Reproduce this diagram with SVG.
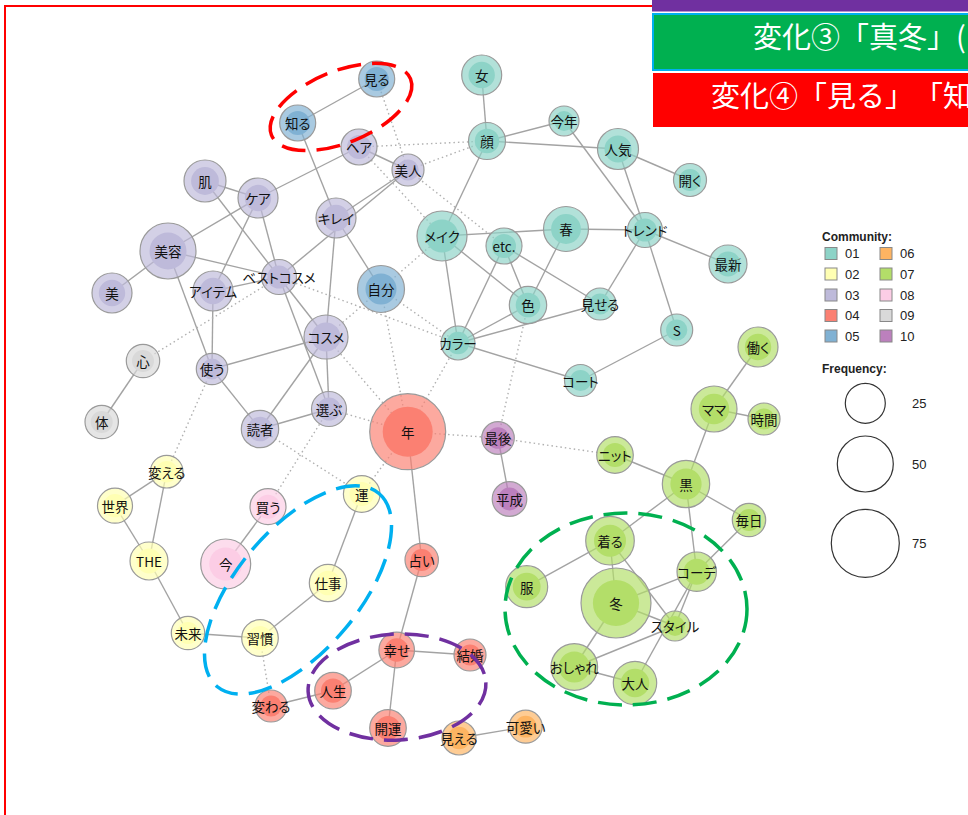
<svg xmlns="http://www.w3.org/2000/svg" width="968" height="815" viewBox="0 0 968 815">
<style>
.lbl{font-family:"Noto Sans CJK JP","Noto Sans",sans-serif;font-size:13.5px;fill:#111;text-anchor:middle;dominant-baseline:central;font-feature-settings:"palt"}
.o{stroke:#9a9a9a;stroke-width:1.2;fill-opacity:0.68}
.i{stroke:none}
.c01{fill:#8DD3C7}.c02{fill:#FFFFB3}.c03{fill:#BEBADA}.c04{fill:#FB8072}.c05{fill:#80B1D3}
.c06{fill:#FDB462}.c07{fill:#B3DE69}.c08{fill:#FCCDE5}.c09{fill:#D9D9D9}.c10{fill:#BC80BD}
.e{stroke:#a3a3a3;stroke-width:1.4;fill:none}
.d{stroke:#b0b0b0;stroke-width:1.4;stroke-dasharray:1.5 3;fill:none}
.ring{fill:none;stroke-width:3.5;stroke-dasharray:24 11}
.lg{font-family:"Liberation Sans",Arial,sans-serif;font-size:13px;fill:#222}
.lgb{font-family:"Liberation Sans",Arial,sans-serif;font-size:12px;font-weight:bold;fill:#222}
.sw{stroke:#888;stroke-width:1}
.ban{font-family:"Noto Sans CJK JP","Noto Sans",sans-serif;font-size:29px;fill:#fff;text-spacing-trim:space-all;font-feature-settings:"halt" 0,"chws" 0}
</style>
<rect x="0" y="0" width="968" height="815" fill="#fff"/>
<rect x="5" y="6" width="1000" height="900" fill="none" stroke="#FF0000" stroke-width="2"/>
<g id="connectors">
<line class="e" x1="376.7" y1="79" x2="297.7" y2="123"/>
<line class="e" x1="297.7" y1="123" x2="336" y2="218"/>
<line class="e" x1="359" y1="147" x2="408" y2="170"/>
<line class="e" x1="359" y1="147" x2="258" y2="198"/>
<line class="e" x1="205" y1="181" x2="258" y2="198"/>
<line class="e" x1="205" y1="181" x2="279" y2="277"/>
<line class="e" x1="258" y1="198" x2="168" y2="251"/>
<line class="e" x1="258" y1="198" x2="213" y2="291"/>
<line class="e" x1="258" y1="198" x2="279" y2="277"/>
<line class="e" x1="408" y1="170" x2="336" y2="218"/>
<line class="e" x1="408" y1="170" x2="279" y2="277"/>
<line class="e" x1="336" y1="218" x2="381" y2="289"/>
<line class="e" x1="336" y1="218" x2="326" y2="337"/>
<line class="e" x1="168" y1="251" x2="112" y2="293"/>
<line class="e" x1="168" y1="251" x2="279" y2="277"/>
<line class="e" x1="168" y1="251" x2="212" y2="369"/>
<line class="e" x1="213" y1="291" x2="279" y2="277"/>
<line class="e" x1="213" y1="291" x2="212" y2="369"/>
<line class="e" x1="279" y1="277" x2="326" y2="337"/>
<line class="e" x1="279" y1="277" x2="329" y2="409"/>
<line class="e" x1="326" y1="337" x2="212" y2="369"/>
<line class="e" x1="326" y1="337" x2="260" y2="429"/>
<line class="e" x1="326" y1="337" x2="329" y2="409"/>
<line class="e" x1="212" y1="369" x2="260" y2="429"/>
<line class="e" x1="260" y1="429" x2="329" y2="409"/>
<line class="e" x1="143" y1="361" x2="101.7" y2="422"/>
<line class="e" x1="481.7" y1="75" x2="487" y2="141"/>
<line class="e" x1="487" y1="141" x2="564" y2="121"/>
<line class="e" x1="487" y1="141" x2="618" y2="149"/>
<line class="e" x1="487" y1="141" x2="442" y2="236"/>
<line class="e" x1="564" y1="121" x2="645" y2="230"/>
<line class="e" x1="618" y1="149" x2="645" y2="230"/>
<line class="e" x1="618" y1="149" x2="690" y2="180"/>
<line class="e" x1="442" y1="236" x2="566" y2="229"/>
<line class="e" x1="566" y1="229" x2="645" y2="230"/>
<line class="e" x1="442" y1="236" x2="528" y2="305"/>
<line class="e" x1="442" y1="236" x2="458" y2="343"/>
<line class="e" x1="504" y1="246" x2="528" y2="305"/>
<line class="e" x1="504" y1="246" x2="458" y2="343"/>
<line class="e" x1="504" y1="246" x2="600" y2="304"/>
<line class="e" x1="566" y1="229" x2="528" y2="305"/>
<line class="e" x1="645" y1="230" x2="728" y2="264"/>
<line class="e" x1="645" y1="230" x2="600" y2="304"/>
<line class="e" x1="645" y1="230" x2="676.7" y2="330"/>
<line class="e" x1="528" y1="305" x2="458" y2="343"/>
<line class="e" x1="458" y1="343" x2="600" y2="304"/>
<line class="e" x1="458" y1="343" x2="580.5" y2="380.5"/>
<line class="e" x1="676.7" y1="330" x2="580.5" y2="380.5"/>
<line class="e" x1="758" y1="347" x2="714" y2="409"/>
<line class="e" x1="714" y1="409" x2="764" y2="419"/>
<line class="e" x1="714" y1="409" x2="686" y2="484"/>
<line class="e" x1="615" y1="455" x2="686" y2="484"/>
<line class="e" x1="686" y1="484" x2="749" y2="520"/>
<line class="e" x1="686" y1="484" x2="610" y2="540.7"/>
<line class="e" x1="686" y1="484" x2="696.7" y2="571.7"/>
<line class="e" x1="749" y1="520" x2="696.7" y2="571.7"/>
<line class="e" x1="610" y1="540.7" x2="526.7" y2="586.7"/>
<line class="e" x1="610" y1="540.7" x2="616" y2="603"/>
<line class="e" x1="610" y1="540.7" x2="675" y2="626"/>
<line class="e" x1="616" y1="603" x2="696.7" y2="571.7"/>
<line class="e" x1="616" y1="603" x2="675" y2="626"/>
<line class="e" x1="616" y1="603" x2="574.3" y2="667"/>
<line class="e" x1="574.3" y1="667" x2="675" y2="626"/>
<line class="e" x1="574.3" y1="667" x2="635" y2="683"/>
<line class="e" x1="696.7" y1="571.7" x2="675" y2="626"/>
<line class="e" x1="696.7" y1="571.7" x2="635" y2="683"/>
<line class="e" x1="407.7" y1="431.7" x2="421.7" y2="560"/>
<line class="e" x1="421.7" y1="560" x2="396.7" y2="650"/>
<line class="e" x1="396.7" y1="650" x2="470" y2="655"/>
<line class="e" x1="396.7" y1="650" x2="333" y2="690.7"/>
<line class="e" x1="396.7" y1="650" x2="388" y2="728"/>
<line class="e" x1="333" y1="690.7" x2="271" y2="706"/>
<line class="e" x1="459" y1="738" x2="525.7" y2="726.7"/>
<line class="e" x1="498" y1="438" x2="509.5" y2="499"/>
<line class="e" x1="166.7" y1="471.7" x2="115" y2="505.7"/>
<line class="e" x1="166.7" y1="471.7" x2="149" y2="561"/>
<line class="e" x1="115" y1="505.7" x2="149" y2="561"/>
<line class="e" x1="149" y1="561" x2="188" y2="633"/>
<line class="e" x1="188" y1="633" x2="260" y2="638"/>
<line class="e" x1="260" y1="638" x2="328" y2="583"/>
<line class="e" x1="328" y1="583" x2="361.7" y2="494"/>
<line class="e" x1="268" y1="506.7" x2="225.7" y2="564"/>
<line class="d" x1="376.7" y1="79" x2="408" y2="170"/>
<line class="d" x1="359" y1="147" x2="487" y2="141"/>
<line class="d" x1="408" y1="170" x2="487" y2="141"/>
<line class="d" x1="408" y1="170" x2="504" y2="246"/>
<line class="d" x1="359" y1="147" x2="442" y2="236"/>
<line class="d" x1="381" y1="289" x2="442" y2="236"/>
<line class="d" x1="381" y1="289" x2="458" y2="343"/>
<line class="d" x1="381" y1="289" x2="407.7" y2="431.7"/>
<line class="d" x1="381" y1="289" x2="326" y2="337"/>
<line class="d" x1="279" y1="277" x2="458" y2="343"/>
<line class="d" x1="326" y1="337" x2="407.7" y2="431.7"/>
<line class="d" x1="329" y1="409" x2="407.7" y2="431.7"/>
<line class="d" x1="458" y1="343" x2="407.7" y2="431.7"/>
<line class="d" x1="528" y1="305" x2="498" y2="438"/>
<line class="d" x1="407.7" y1="431.7" x2="498" y2="438"/>
<line class="d" x1="498" y1="438" x2="615" y2="455"/>
<line class="d" x1="407.7" y1="431.7" x2="361.7" y2="494"/>
<line class="d" x1="260" y1="429" x2="361.7" y2="494"/>
<line class="d" x1="329" y1="409" x2="268" y2="506.7"/>
<line class="d" x1="212" y1="369" x2="166.7" y2="471.7"/>
<line class="d" x1="143" y1="361" x2="279" y2="277"/>
<line class="d" x1="260" y1="638" x2="271" y2="706"/>
</g>
<g id="n-miru" class="c05"><circle class="o" cx="376.7" cy="79" r="18"/><circle class="i" cx="376.7" cy="79" r="12"/><text class="lbl" x="376.7" y="79">見る</text></g>
<g id="n-shiru" class="c05"><circle class="o" cx="297.7" cy="123" r="18"/><circle class="i" cx="297.7" cy="123" r="12"/><text class="lbl" x="297.7" y="123">知る</text></g>
<g id="n-jibun" class="c05"><circle class="o" cx="381" cy="289" r="23.5"/><circle class="i" cx="381" cy="289" r="15.5"/><text class="lbl" x="381" y="289">自分</text></g>
<g id="n-hair" class="c03"><circle class="o" cx="359" cy="147" r="18"/><circle class="i" cx="359" cy="147" r="12"/><text class="lbl" x="359" y="147">ヘア</text></g>
<g id="n-bijin" class="c03"><circle class="o" cx="408" cy="170" r="16"/><circle class="i" cx="408" cy="170" r="10.6"/><text class="lbl" x="408" y="170">美人</text></g>
<g id="n-hada" class="c03"><circle class="o" cx="205" cy="181" r="21"/><circle class="i" cx="205" cy="181" r="13.9"/><text class="lbl" x="205" y="181">肌</text></g>
<g id="n-care" class="c03"><circle class="o" cx="258" cy="198" r="20"/><circle class="i" cx="258" cy="198" r="13.2"/><text class="lbl" x="258" y="198">ケア</text></g>
<g id="n-kirei" class="c03"><circle class="o" cx="336" cy="218" r="20"/><circle class="i" cx="336" cy="218" r="13.2"/><text class="lbl" x="336" y="218">キレイ</text></g>
<g id="n-biyou" class="c03"><circle class="o" cx="168" cy="251" r="28"/><circle class="i" cx="168" cy="251" r="18.5"/><text class="lbl" x="168" y="251">美容</text></g>
<g id="n-bi" class="c03"><circle class="o" cx="112" cy="293" r="20"/><circle class="i" cx="112" cy="293" r="13.2"/><text class="lbl" x="112" y="293">美</text></g>
<g id="n-item" class="c03"><circle class="o" cx="213" cy="291" r="20"/><circle class="i" cx="213" cy="291" r="13.2"/><text class="lbl" x="213" y="291">アイテム</text></g>
<g id="n-bestcosme" class="c03"><circle class="o" cx="279" cy="277" r="17.5"/><circle class="i" cx="279" cy="277" r="11.6"/><text class="lbl" x="279" y="277">ベストコスメ</text></g>
<g id="n-cosme" class="c03"><circle class="o" cx="326" cy="337" r="22"/><circle class="i" cx="326" cy="337" r="14.5"/><text class="lbl" x="326" y="337">コスメ</text></g>
<g id="n-tsukau" class="c03"><circle class="o" cx="212" cy="369" r="15.7"/><circle class="i" cx="212" cy="369" r="10.4"/><text class="lbl" x="212" y="369">使う</text></g>
<g id="n-dokusha" class="c03"><circle class="o" cx="260" cy="429" r="18.7"/><circle class="i" cx="260" cy="429" r="12.3"/><text class="lbl" x="260" y="429">読者</text></g>
<g id="n-erabu" class="c03"><circle class="o" cx="329" cy="409" r="17.5"/><circle class="i" cx="329" cy="409" r="11.6"/><text class="lbl" x="329" y="409">選ぶ</text></g>
<g id="n-kokoro" class="c09"><circle class="o" cx="143" cy="361" r="16.7"/><circle class="i" cx="143" cy="361" r="11"/><text class="lbl" x="143" y="361">心</text></g>
<g id="n-karada" class="c09"><circle class="o" cx="101.7" cy="422" r="16.7"/><circle class="i" cx="101.7" cy="422" r="11"/><text class="lbl" x="101.7" y="422">体</text></g>
<g id="n-onna" class="c01"><circle class="o" cx="481.7" cy="75" r="20"/><circle class="i" cx="481.7" cy="75" r="13.2"/><text class="lbl" x="481.7" y="75">女</text></g>
<g id="n-kao" class="c01"><circle class="o" cx="487" cy="141" r="18.5"/><circle class="i" cx="487" cy="141" r="12.2"/><text class="lbl" x="487" y="141">顔</text></g>
<g id="n-kotoshi" class="c01"><circle class="o" cx="564" cy="121" r="15"/><circle class="i" cx="564" cy="121" r="9.9"/><text class="lbl" x="564" y="121">今年</text></g>
<g id="n-ninki" class="c01"><circle class="o" cx="618" cy="149" r="20.5"/><circle class="i" cx="618" cy="149" r="13.5"/><text class="lbl" x="618" y="149">人気</text></g>
<g id="n-hiraku" class="c01"><circle class="o" cx="690" cy="180" r="16.5"/><circle class="i" cx="690" cy="180" r="10.9"/><text class="lbl" x="690" y="180">開く</text></g>
<g id="n-make" class="c01"><circle class="o" cx="442" cy="236" r="25"/><circle class="i" cx="442" cy="236" r="16.5"/><text class="lbl" x="442" y="236">メイク</text></g>
<g id="n-etc" class="c01"><circle class="o" cx="504" cy="246" r="18"/><circle class="i" cx="504" cy="246" r="12"/><text class="lbl" x="504" y="246">etc.</text></g>
<g id="n-haru" class="c01"><circle class="o" cx="566" cy="229" r="22.5"/><circle class="i" cx="566" cy="229" r="14.9"/><text class="lbl" x="566" y="229">春</text></g>
<g id="n-trend" class="c01"><circle class="o" cx="645" cy="230" r="17.5"/><circle class="i" cx="645" cy="230" r="11.6"/><text class="lbl" x="645" y="230">トレンド</text></g>
<g id="n-saishin" class="c01"><circle class="o" cx="728" cy="264" r="19"/><circle class="i" cx="728" cy="264" r="12.5"/><text class="lbl" x="728" y="264">最新</text></g>
<g id="n-iro" class="c01"><circle class="o" cx="528" cy="305" r="18.7"/><circle class="i" cx="528" cy="305" r="12.3"/><text class="lbl" x="528" y="305">色</text></g>
<g id="n-miseru" class="c01"><circle class="o" cx="600" cy="304" r="16"/><circle class="i" cx="600" cy="304" r="10.6"/><text class="lbl" x="600" y="304">見せる</text></g>
<g id="n-color" class="c01"><circle class="o" cx="458" cy="343" r="17"/><circle class="i" cx="458" cy="343" r="11.2"/><text class="lbl" x="458" y="343">カラー</text></g>
<g id="n-s" class="c01"><circle class="o" cx="676.7" cy="330" r="16"/><circle class="i" cx="676.7" cy="330" r="10.6"/><text class="lbl" x="676.7" y="330">S</text></g>
<g id="n-coat" class="c01"><circle class="o" cx="580.5" cy="380.5" r="16"/><circle class="i" cx="580.5" cy="380.5" r="10.6"/><text class="lbl" x="580.5" y="380.5">コート</text></g>
<g id="n-toshi" class="c04"><circle class="o" cx="407.7" cy="431.7" r="38"/><circle class="i" cx="407.7" cy="431.7" r="25"/><text class="lbl" x="407.7" y="431.7">年</text></g>
<g id="n-saigo" class="c10"><circle class="o" cx="498" cy="438" r="16.3"/><circle class="i" cx="498" cy="438" r="10.8"/><text class="lbl" x="498" y="438">最後</text></g>
<g id="n-heisei" class="c10"><circle class="o" cx="509.5" cy="499" r="17.3"/><circle class="i" cx="509.5" cy="499" r="11.4"/><text class="lbl" x="509.5" y="499">平成</text></g>
<g id="n-uranai" class="c04"><circle class="o" cx="421.7" cy="560" r="16.7"/><circle class="i" cx="421.7" cy="560" r="11"/><text class="lbl" x="421.7" y="560">占い</text></g>
<g id="n-shiawase" class="c04"><circle class="o" cx="396.7" cy="650" r="17.8"/><circle class="i" cx="396.7" cy="650" r="11.7"/><text class="lbl" x="396.7" y="650">幸せ</text></g>
<g id="n-kekkon" class="c04"><circle class="o" cx="470" cy="655" r="16"/><circle class="i" cx="470" cy="655" r="10.6"/><text class="lbl" x="470" y="655">結婚</text></g>
<g id="n-jinsei" class="c04"><circle class="o" cx="333" cy="690.7" r="18.3"/><circle class="i" cx="333" cy="690.7" r="12.1"/><text class="lbl" x="333" y="690.7">人生</text></g>
<g id="n-kaiun" class="c04"><circle class="o" cx="388" cy="728" r="18.3"/><circle class="i" cx="388" cy="728" r="12.1"/><text class="lbl" x="388" y="728">開運</text></g>
<g id="n-kawaru" class="c04"><circle class="o" cx="271" cy="706" r="16"/><circle class="i" cx="271" cy="706" r="10.6"/><text class="lbl" x="271" y="706">変わる</text></g>
<g id="n-mieru" class="c06"><circle class="o" cx="459" cy="738" r="17"/><circle class="i" cx="459" cy="738" r="11.2"/><text class="lbl" x="459" y="738">見える</text></g>
<g id="n-kawaii" class="c06"><circle class="o" cx="525.7" cy="726.7" r="16.5"/><circle class="i" cx="525.7" cy="726.7" r="10.9"/><text class="lbl" x="525.7" y="726.7">可愛い</text></g>
<g id="n-kaeru" class="c02"><circle class="o" cx="166.7" cy="471.7" r="16.3"/><circle class="i" cx="166.7" cy="471.7" r="10.8"/><text class="lbl" x="166.7" y="471.7">変える</text></g>
<g id="n-sekai" class="c02"><circle class="o" cx="115" cy="505.7" r="17.5"/><circle class="i" cx="115" cy="505.7" r="11.6"/><text class="lbl" x="115" y="505.7">世界</text></g>
<g id="n-the" class="c02"><circle class="o" cx="149" cy="561" r="19"/><circle class="i" cx="149" cy="561" r="12.5"/><text class="lbl" x="149" y="561">THE</text></g>
<g id="n-kau" class="c08"><circle class="o" cx="268" cy="506.7" r="18"/><circle class="i" cx="268" cy="506.7" r="12"/><text class="lbl" x="268" y="506.7">買う</text></g>
<g id="n-ima" class="c08"><circle class="o" cx="225.7" cy="564" r="25"/><circle class="i" cx="225.7" cy="564" r="16.5"/><text class="lbl" x="225.7" y="564">今</text></g>
<g id="n-un" class="c02"><circle class="o" cx="361.7" cy="494" r="18.3"/><circle class="i" cx="361.7" cy="494" r="12.1"/><text class="lbl" x="361.7" y="494">運</text></g>
<g id="n-shigoto" class="c02"><circle class="o" cx="328" cy="583" r="18.7"/><circle class="i" cx="328" cy="583" r="12.3"/><text class="lbl" x="328" y="583">仕事</text></g>
<g id="n-mirai" class="c02"><circle class="o" cx="188" cy="633" r="16.7"/><circle class="i" cx="188" cy="633" r="11"/><text class="lbl" x="188" y="633">未来</text></g>
<g id="n-shukan" class="c02"><circle class="o" cx="260" cy="638" r="18.3"/><circle class="i" cx="260" cy="638" r="12.1"/><text class="lbl" x="260" y="638">習慣</text></g>
<g id="n-hataraku" class="c07"><circle class="o" cx="758" cy="347" r="20"/><circle class="i" cx="758" cy="347" r="13.2"/><text class="lbl" x="758" y="347">働く</text></g>
<g id="n-mama" class="c07"><circle class="o" cx="714" cy="409" r="23"/><circle class="i" cx="714" cy="409" r="15.2"/><text class="lbl" x="714" y="409">ママ</text></g>
<g id="n-jikan" class="c07"><circle class="o" cx="764" cy="419" r="16"/><circle class="i" cx="764" cy="419" r="10.6"/><text class="lbl" x="764" y="419">時間</text></g>
<g id="n-knit" class="c07"><circle class="o" cx="615" cy="455" r="18.3"/><circle class="i" cx="615" cy="455" r="12.1"/><text class="lbl" x="615" y="455">ニット</text></g>
<g id="n-kuro" class="c07"><circle class="o" cx="686" cy="484" r="23.7"/><circle class="i" cx="686" cy="484" r="15.6"/><text class="lbl" x="686" y="484">黒</text></g>
<g id="n-mainichi" class="c07"><circle class="o" cx="749" cy="520" r="16.7"/><circle class="i" cx="749" cy="520" r="11"/><text class="lbl" x="749" y="520">毎日</text></g>
<g id="n-kiru" class="c07"><circle class="o" cx="610" cy="540.7" r="24.3"/><circle class="i" cx="610" cy="540.7" r="16"/><text class="lbl" x="610" y="540.7">着る</text></g>
<g id="n-code" class="c07"><circle class="o" cx="696.7" cy="571.7" r="19.7"/><circle class="i" cx="696.7" cy="571.7" r="13"/><text class="lbl" x="696.7" y="571.7">コーデ</text></g>
<g id="n-fuku" class="c07"><circle class="o" cx="526.7" cy="586.7" r="21"/><circle class="i" cx="526.7" cy="586.7" r="13.9"/><text class="lbl" x="526.7" y="586.7">服</text></g>
<g id="n-fuyu" class="c07"><circle class="o" cx="616" cy="603" r="35"/><circle class="i" cx="616" cy="603" r="23.1"/><text class="lbl" x="616" y="603">冬</text></g>
<g id="n-style" class="c07"><circle class="o" cx="675" cy="626" r="15"/><circle class="i" cx="675" cy="626" r="9.9"/><text class="lbl" x="675" y="626">スタイル</text></g>
<g id="n-oshare" class="c07"><circle class="o" cx="574.3" cy="667" r="23.3"/><circle class="i" cx="574.3" cy="667" r="15.4"/><text class="lbl" x="574.3" y="667">おしゃれ</text></g>
<g id="n-otona" class="c07"><circle class="o" cx="635" cy="683" r="21.7"/><circle class="i" cx="635" cy="683" r="14.3"/><text class="lbl" x="635" y="683">大人</text></g>
<g id="highlights">
<ellipse class="ring" cx="341" cy="107" rx="75" ry="36" transform="rotate(-22 341 107)" stroke="#FF0000"/>
<ellipse class="ring" cx="298" cy="590" rx="126" ry="61" transform="rotate(-50 298 590)" stroke="#00B0F0"/>
<ellipse class="ring" cx="397" cy="687" rx="89" ry="53" transform="rotate(-3 397 687)" stroke="#7030A0"/>
<ellipse class="ring" cx="626" cy="609" rx="121" ry="96" stroke="#00B050"/>
</g>
<g id="legend">
<text class="lgb" x="822" y="241">Community:</text>
<rect class="sw c01" x="825" y="247.5" width="12" height="12"/><text class="lg" x="845" y="258">01</text>
<rect class="sw c02" x="825" y="268" width="12" height="12"/><text class="lg" x="845" y="278.5">02</text>
<rect class="sw c03" x="825" y="289" width="12" height="12"/><text class="lg" x="845" y="299.5">03</text>
<rect class="sw c04" x="825" y="309.5" width="12" height="12"/><text class="lg" x="845" y="320">04</text>
<rect class="sw c05" x="825" y="330" width="12" height="12"/><text class="lg" x="845" y="340.5">05</text>
<rect class="sw c06" x="880" y="247.5" width="12" height="12"/><text class="lg" x="900" y="258">06</text>
<rect class="sw c07" x="880" y="268" width="12" height="12"/><text class="lg" x="900" y="278.5">07</text>
<rect class="sw c08" x="880" y="289" width="12" height="12"/><text class="lg" x="900" y="299.5">08</text>
<rect class="sw c09" x="880" y="309.5" width="12" height="12"/><text class="lg" x="900" y="320">09</text>
<rect class="sw c10" x="880" y="330" width="12" height="12"/><text class="lg" x="900" y="340.5">10</text>
<text class="lgb" x="822" y="373">Frequency:</text>
<circle cx="865.3" cy="403.3" r="20" fill="none" stroke="#333" stroke-width="1.2"/><text class="lg" x="912" y="408">25</text>
<circle cx="865.3" cy="464" r="28" fill="none" stroke="#333" stroke-width="1.2"/><text class="lg" x="912" y="469">50</text>
<circle cx="865.3" cy="543.3" r="34" fill="none" stroke="#333" stroke-width="1.2"/><text class="lg" x="912" y="548">75</text>
</g>
<g id="banners">
<rect x="652" y="0" width="316" height="11.5" fill="#7030A0"/>
<rect x="653" y="14" width="320" height="56" fill="#00B050" stroke="#00B0F0" stroke-width="2"/>
<text class="ban" x="753" y="48">変化③「真冬」(</text>
<rect x="653" y="73" width="315" height="54" fill="#FF0000"/>
<text class="ban" x="711" y="107">変化④「見る」「知</text>
</g>
</svg>
